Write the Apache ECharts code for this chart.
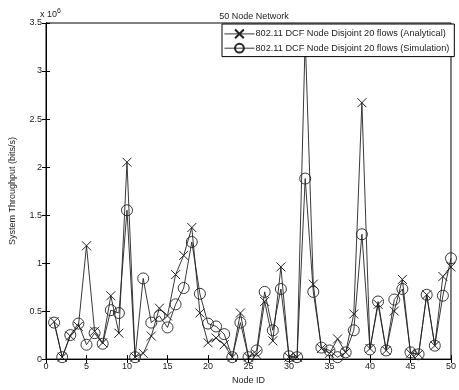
<!DOCTYPE html>
<html>
<head>
<meta charset="utf-8">
<script src="https://cdn.jsdelivr.net/npm/echarts@6/dist/echarts.min.js"></script>
<style>html,body{margin:0;padding:0;background:#fff}#c{width:459px;height:390px}</style>
</head>
<body>
<div id="c"></div>
<script>
const nodeIds = [1,2,3,4,5,6,7,8,9,10,11,12,13,14,15,16,17,18,19,20,21,22,23,24,25,26,27,28,29,30,31,32,33,34,35,36,37,38,39,40,41,42,43,44,45,46,47,48,49,50];
// throughput in units of 1e6 bits/s
const analytical = [0.39,0.02,0.24,0.34,1.18,0.29,0.17,0.66,0.27,2.05,0.02,0.06,0.24,0.53,0.45,0.88,1.08,1.37,0.48,0.17,0.22,0.15,0.02,0.48,0.02,0.05,0.60,0.19,0.96,0.02,0.02,3.35,0.78,0.11,0.06,0.21,0.07,0.47,2.67,0.11,0.57,0.09,0.50,0.83,0.06,0.05,0.67,0.14,0.86,0.96];
const simulation = [0.38,0.02,0.25,0.37,0.15,0.27,0.16,0.51,0.48,1.55,0.02,0.84,0.38,0.45,0.33,0.57,0.74,1.22,0.68,0.37,0.34,0.26,0.02,0.38,0.02,0.09,0.70,0.30,0.73,0.03,0.02,1.88,0.70,0.12,0.09,0.02,0.07,0.30,1.30,0.10,0.60,0.09,0.62,0.73,0.07,0.05,0.67,0.14,0.66,1.05];
const xTicks = [0,5,10,15,20,25,30,35,40,45,50];
const yTicks = [0,0.5,1,1.5,2,2.5,3,3.5];
const seriesNames = ['802.11 DCF Node Disjoint 20 flows (Analytical)','802.11 DCF Node Disjoint 20 flows (Simulation)'];

const FONT = 'Liberation Sans';
const INK = '#222';
const chart = echarts.init(document.getElementById('c'));
const pairs = arr => nodeIds.map((n,i)=>[n,arr[i]]);
const xSym = 'path://M0,0L10,10M10,0L0,10';
chart.setOption({
  animation:false,
  textStyle:{fontFamily:FONT},
  title:{text:'50 Node Network',left:249,top:7,textAlign:'center',textStyle:{fontSize:9,fontWeight:'normal',color:INK,fontFamily:FONT}},
  grid:{left:40,right:1,top:23,bottom:28,show:true,borderColor:'#000',borderWidth:1,backgroundColor:'transparent'},
  legend:{
    orient:'vertical',left:222,top:24,z:10,
    backgroundColor:'#ffffff',borderColor:'#000',borderWidth:1,
    padding:[3,5,3,2],itemGap:2,itemWidth:30,itemHeight:11,
    lineStyle:{width:0.9},
    textStyle:{fontSize:9.2,color:INK,fontFamily:FONT,padding:[0,0,0,-4]},
    data:seriesNames
  },
  xAxis:[{
    type:'value',min:0,max:50,interval:5,
    name:'Node ID',nameLocation:'middle',nameGap:15,
    nameTextStyle:{fontSize:9,color:INK,fontFamily:FONT},
    axisLine:{show:true,lineStyle:{color:'#000'}},
    axisTick:{inside:true,length:4,lineStyle:{color:'#000'}},
    axisLabel:{fontSize:9,color:INK,margin:3,fontFamily:FONT},
    splitLine:{show:false}
  },{
    type:'value',position:'top',min:0,max:50,interval:5,
    axisLine:{show:true,lineStyle:{color:'#000'}},
    axisTick:{inside:true,length:4,lineStyle:{color:'#000'}},
    axisLabel:{show:false},splitLine:{show:false}
  }],
  yAxis:[{
    type:'value',min:0,max:3.5,interval:0.5,
    name:'System Throughput (bits/s)',nameLocation:'middle',nameGap:29,
    nameTextStyle:{fontSize:9,color:INK,fontFamily:FONT},
    axisLine:{show:true,lineStyle:{color:'#000'}},
    axisTick:{inside:true,length:4,lineStyle:{color:'#000'}},
    axisLabel:{fontSize:9,color:INK,margin:4,fontFamily:FONT,formatter:v=>String(v)},
    splitLine:{show:false}
  },{
    type:'value',position:'right',min:0,max:3.5,interval:0.5,
    axisLine:{show:true,lineStyle:{color:'#000'}},
    axisTick:{inside:true,length:4,lineStyle:{color:'#000'}},
    axisLabel:{show:false},splitLine:{show:false}
  }],
  graphic:[{
    type:'text',left:40,top:8,
    style:{text:'x 10{s|6}',fontSize:9,fill:INK,fontFamily:FONT,rich:{s:{fontSize:7,verticalAlign:'top',padding:[0,0,6,0]}}}
  }],
  series:[{
    name:seriesNames[0],type:'line',data:pairs(analytical),
    symbol:xSym,symbolSize:9,
    lineStyle:{color:INK,width:0.9},
    itemStyle:{color:'none',borderColor:INK,borderWidth:1},
    z:2
  },{
    name:seriesNames[1],type:'line',data:pairs(simulation),
    symbol:'circle',symbolSize:11,
    lineStyle:{color:INK,width:0.9},
    itemStyle:{color:'rgba(0,0,0,0)',borderColor:INK,borderWidth:0.9},
    z:2
  }]
});
</script>
</body>
</html>
